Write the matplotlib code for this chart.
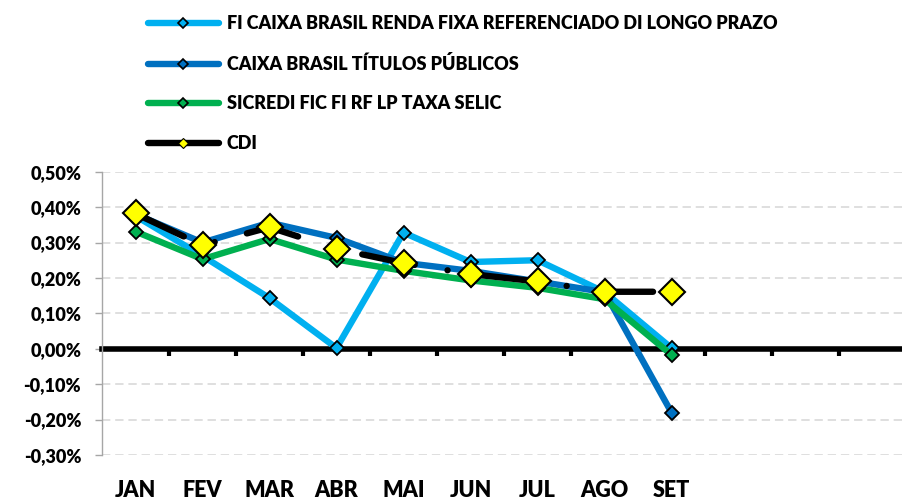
import numpy as np
import matplotlib.pyplot as plt
from matplotlib.lines import Line2D
from matplotlib.transforms import blended_transform_factory

plt.rcParams['font.family'] = 'Lato'
plt.rcParams['font.weight'] = 'heavy'
plt.rcParams['lines.scale_dashes'] = False

months = ['JAN', 'FEV', 'MAR', 'ABR', 'MAI', 'JUN', 'JUL', 'AGO', 'SET']
n_slots = 12  # axis has room for the whole year

fi_caixa_rf = [0.375, 0.262, 0.143, 0.002, 0.328, 0.245, 0.250, 0.160, 0.002]
caixa_tp = [0.380, 0.300, 0.356, 0.313, 0.243, 0.220, 0.190, 0.160, -0.180]
sicredi = [0.331, 0.253, 0.310, 0.252, 0.220, 0.193, 0.172, 0.140, -0.017]
cdi = [0.382, 0.292, 0.343, 0.282, 0.242, 0.211, 0.190, 0.161, 0.161]

labels = ['FI CAIXA BRASIL RENDA FIXA REFERENCIADO DI LONGO PRAZO',
          'CAIXA BRASIL TÍTULOS PÚBLICOS',
          'SICREDI FIC FI RF LP TAXA SELIC',
          'CDI']
colors = ['#00B0F0', '#0070C0', '#00B050', '#000000']

yticks = [-0.3, -0.2, -0.1, 0.0, 0.1, 0.2, 0.3, 0.4, 0.5]
ytick_labels = ['-0,30%', '-0,20%', '-0,10%', '0,00%', '0,10%', '0,20%',
                '0,30%', '0,40%', '0,50%']

fig = plt.figure(figsize=(9.02, 5.0), dpi=100)
ax = fig.add_axes([102 / 902, 45 / 500, 804 / 902, 283.3 / 500])

x = np.arange(len(months))
lw = 4.6
for i, series in enumerate([fi_caixa_rf, caixa_tp, sicredi]):
    ax.plot(x, series, color=colors[i], lw=lw, solid_capstyle='round',
            marker='D', ms=7.5, mfc=colors[i], mec='black', mew=1.3, zorder=3 + i)
# long dash - dot, lengths in points
ax.plot(x, cdi, color='black', lw=lw, dashes=(38.5, 24, 0.01, 24),
        dash_capstyle='round', marker='D', ms=13, mfc='#FFFF00', mec='black',
        mew=1.5, zorder=7)

ax.set_xlim(-0.5, n_slots - 0.5)
ax.set_ylim(-0.3, 0.5)

# zero line acts as the category axis
ax.spines['bottom'].set_position(('data', 0))
ax.spines['bottom'].set_linewidth(4)
ax.spines['bottom'].set_zorder(2)
ax.spines['top'].set_visible(False)
ax.spines['right'].set_visible(False)
ax.spines['left'].set_color('#A6A6A6')
ax.spines['left'].set_linewidth(1)

ax.set_xticks(np.arange(0.5, n_slots - 0.5, 1.0))
ax.set_xticklabels([])
ax.tick_params(axis='x', direction='out', length=5, width=3, color='black')

ax.set_yticks(yticks)
ax.set_yticklabels(ytick_labels)
ax.tick_params(axis='y', direction='out', length=5, width=1, color='#A6A6A6',
               labelsize=13, pad=10)
for t in ax.get_yticklabels():
    t.set_fontweight('heavy')

for v in yticks:
    if v != 0:
        ax.axhline(v, color='#D9D9D9', lw=1.2, dashes=(6, 3.5), zorder=1)

trans = blended_transform_factory(ax.transData, ax.transAxes)
for i, m in enumerate(months):
    ax.text(i, -0.125, m, transform=trans, ha='center', va='center',
            fontsize=15.5, fontweight='heavy')

handles = []
for i in range(3):
    handles.append(Line2D([], [], color=colors[i], lw=lw, solid_capstyle='round',
                          marker='D', ms=5, mfc=colors[i], mec='black', mew=1.2))
handles.append(Line2D([], [], color='black', lw=lw, solid_capstyle='round',
                      marker='D', ms=5, mfc='#FFFF00', mec='black', mew=0.8))
fig.legend(handles, labels, loc='upper left', bbox_to_anchor=(132 / 902, 1.002),
           frameon=False, handlelength=3.9, handletextpad=0.45, labelspacing=1.25,
           prop={'size': 13, 'weight': 'heavy'})

fig.savefig('out.png', dpi=100)
